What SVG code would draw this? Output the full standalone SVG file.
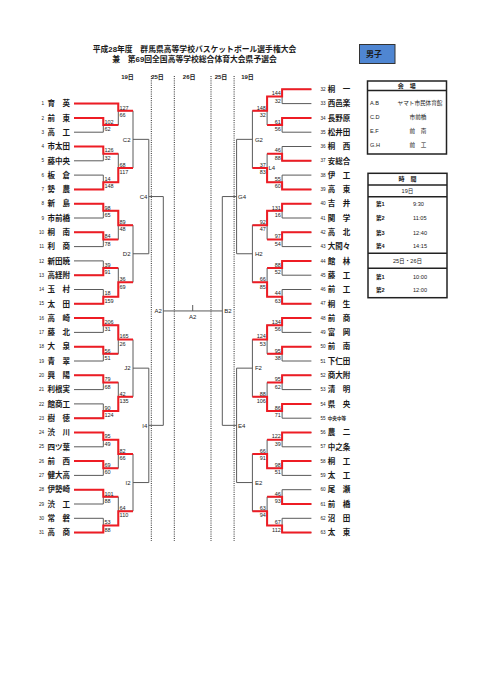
<svg xmlns="http://www.w3.org/2000/svg" xmlns:xlink="http://www.w3.org/1999/xlink" width="481" height="680" viewBox="0 0 481 680">
<style>
text{font-family:'Liberation Sans','Noto Sans CJK JP',sans-serif;fill:#1a1a1a}
.nm{font-size:7.5px;font-weight:bold}
.no{font-size:4.6px}
.rn{text-anchor:end}
.sc text{font-size:5.5px}
.sl text{text-anchor:start}
.sr text{text-anchor:end}
.lb{font-size:6px}
.hd{font-size:6px;font-weight:bold;text-anchor:middle}
.ti{font-size:7.8px;font-weight:bold;text-anchor:middle}
.tb{font-size:5.6px}
.g{fill:none;stroke:#5a5a5a;stroke-width:1}
.r{fill:none;stroke:#ee1c24;stroke-width:2}
.dt{stroke:#111;stroke-width:0.9;stroke-dasharray:1 1.2}
.bx{fill:none;stroke:#222;stroke-width:1.5}
</style>
<defs>
<path id="lg8" class="g" d="M74 89.3H103.3M74 103.6H103.3M74 117.9H103.3M74 132.2H103.3M74 146.5H103.3M74 160.8H103.3M74 175.1H103.3M74 189.4H103.3M103.3 89.3V103.6M103.3 117.9V132.2M103.3 146.5V160.8M103.3 175.1V189.4M103.3 96.45H118.3M103.3 125.05H118.3M103.3 153.65H118.3M103.3 182.25H118.3M118.3 96.45V125.05M118.3 153.65V182.25M118.3 110.75H133M118.3 167.95H133M133 110.75V167.95M133 139.35H148.8"/>
<path id="rg8" class="g" d="M311.4 89.3H282.1M311.4 103.6H282.1M311.4 117.9H282.1M311.4 132.2H282.1M311.4 146.5H282.1M311.4 160.8H282.1M311.4 175.1H282.1M311.4 189.4H282.1M282.1 89.3V103.6M282.1 117.9V132.2M282.1 146.5V160.8M282.1 175.1V189.4M282.1 96.45H267.1M282.1 125.05H267.1M282.1 153.65H267.1M282.1 182.25H267.1M267.1 96.45V125.05M267.1 153.65V182.25M267.1 110.75H252.4M267.1 167.95H252.4M252.4 110.75V167.95M252.4 139.35H236.6"/>
</defs>

<g id="title">
<text class="ti" x="194.5" y="51.9">平成28年度　群馬県高等学校バスケットボール選手権大会</text>
<text class="ti" x="194.5" y="61.9">兼　第69回全国高等学校総合体育大会県予選会</text>
</g>
<g id="boys">
<rect x="359.5" y="44.5" width="35.5" height="19" fill="#4f86d2" stroke="#333" stroke-width="1"/>
<text x="374" y="57" style="font-size:8px;font-weight:bold;text-anchor:middle">男子</text>
</g>

<g id="days">
<text class="hd" x="127.5" y="79">19日</text>
<text class="hd" x="157.5" y="79">25日</text>
<text class="hd" x="189.2" y="79">26日</text>
<text class="hd" x="221" y="79">25日</text>
<text class="hd" x="247.5" y="79">19日</text>
<line class="dt" x1="151.3" y1="76" x2="151.3" y2="541"/>
<line class="dt" x1="174.3" y1="76" x2="174.3" y2="541"/>
<line class="dt" x1="211" y1="76" x2="211" y2="541"/>
<line class="dt" x1="234.1" y1="76" x2="234.1" y2="541"/>
</g>

<g id="connectors">
<path class="g" d="M74 103.6H118.3M74 117.9H103.3M74 132.2H103.3M74 146.5H103.3M74 160.8H103.3M74 175.1H103.3M74 189.4H103.3M103.3 117.9V132.2M103.3 146.5V160.8M103.3 175.1V189.4M103.3 125.05H118.3M103.3 153.65H118.3M103.3 182.25H118.3M118.3 103.6V125.05M118.3 153.65V182.25M118.3 110.75H133M118.3 167.95H133M133 110.75V167.95M133 139.35H148.8"/>
<use xlink:href="#lg8" href="#lg8" y="114.4"/>
<use xlink:href="#lg8" href="#lg8" y="228.8"/>
<use xlink:href="#lg8" href="#lg8" y="343.2"/>
<use xlink:href="#rg8" href="#rg8" y="0"/>
<use xlink:href="#rg8" href="#rg8" y="114.4"/>
<use xlink:href="#rg8" href="#rg8" y="228.8"/>
<use xlink:href="#rg8" href="#rg8" y="343.2"/>
<path class="g" d="M148.8 139.35V253.75M148.8 196.55H163.3M148.8 368.15V482.55M148.8 425.35H163.3M163.3 196.55V425.35M163.3 310.95H222.3M236.6 139.35V253.75M236.6 196.55H222.3M236.6 368.15V482.55M236.6 425.35H222.3M222.3 196.55V425.35M192.7 310.95V305"/>
<path class="r" d="M74 103.6H118.3V110.75H133M74 117.9H103.3V125.05H118.3M74 146.5H103.3V153.65H118.3M74 189.4H103.3V182.25H118.3V167.95H133M74 203.7H103.3V210.85H118.3V225.15H133M74 232.3H103.3V239.45H118.3M74 275.2H103.3V268.05H118.3M74 303.8H103.3V296.65H118.3V282.35H133M74 318.1H103.3V325.25H118.3V339.55H133M74 346.7H103.3V353.85H118.3M74 375.3H103.3V382.45H118.3M74 418.2H103.3V411.05H118.3V396.75H133M74 432.5H103.3V439.65H118.3V453.95H133M74 461.1H103.3V468.25H118.3M74 489.7H103.3V496.85H118.3M74 532.6H103.3V525.45H118.3V511.15H133"/>
<path class="r" d="M311.4 89.3H282.1V96.45H267.1V110.75H252.4M311.4 117.9H282.1V125.05H267.1M311.4 160.8H282.1V153.65H267.1M311.4 189.4H282.1V182.25H267.1V167.95H252.4M311.4 203.7H282.1V210.85H267.1V225.15H252.4M311.4 232.3H282.1V239.45H267.1M311.4 260.9H282.1V268.05H267.1M311.4 303.8H282.1V296.65H267.1V282.35H252.4M311.4 318.1H282.1V325.25H267.1V339.55H252.4M311.4 346.7H282.1V353.85H267.1M311.4 375.3H282.1V382.45H267.1M311.4 403.9H282.1V411.05H267.1V396.75H252.4M311.4 432.5H282.1V439.65H267.1M311.4 461.1H282.1V468.25H267.1V453.95H252.4M311.4 504H282.1V496.85H267.1M311.4 532.6H282.1V525.45H267.1V511.15H252.4"/>
</g>

<g id="scores-left" class="sc sl">
<g transform="translate(104.5 125.05)"><text y="-1.2">102</text><text y="6.2">62</text></g>
<g transform="translate(104.5 153.65)"><text y="-1.2">126</text><text y="6.2">32</text></g>
<g transform="translate(104.5 182.25)"><text y="-1.2">14</text><text y="6.2">148</text></g>
<g transform="translate(119.5 110.75)"><text y="-1.2">127</text><text y="6.2">66</text></g>
<g transform="translate(119.5 167.95)"><text y="-1.2">68</text><text y="6.2">117</text></g>
<g transform="translate(104.5 210.85)"><text y="-1.2">98</text><text y="6.2">65</text></g>
<g transform="translate(104.5 239.45)"><text y="-1.2">84</text><text y="6.2">78</text></g>
<g transform="translate(104.5 268.05)"><text y="-1.2">39</text><text y="6.2">91</text></g>
<g transform="translate(104.5 296.65)"><text y="-1.2">18</text><text y="6.2">159</text></g>
<g transform="translate(119.5 225.15)"><text y="-1.2">89</text><text y="6.2">48</text></g>
<g transform="translate(119.5 282.35)"><text y="-1.2">36</text><text y="6.2">69</text></g>
<g transform="translate(104.5 325.25)"><text y="-1.2">206</text><text y="6.2">31</text></g>
<g transform="translate(104.5 353.85)"><text y="-1.2">56</text><text y="6.2">51</text></g>
<g transform="translate(104.5 382.45)"><text y="-1.2">79</text><text y="6.2">68</text></g>
<g transform="translate(104.5 411.05)"><text y="-1.2">90</text><text y="6.2">124</text></g>
<g transform="translate(119.5 339.55)"><text y="-1.2">165</text><text y="6.2">26</text></g>
<g transform="translate(119.5 396.75)"><text y="-1.2">42</text><text y="6.2">135</text></g>
<g transform="translate(104.5 439.65)"><text y="-1.2">95</text><text y="6.2">49</text></g>
<g transform="translate(104.5 468.25)"><text y="-1.2">69</text><text y="6.2">60</text></g>
<g transform="translate(104.5 496.85)"><text y="-1.2">101</text><text y="6.2">88</text></g>
<g transform="translate(104.5 525.45)"><text y="-1.2">53</text><text y="6.2">88</text></g>
<g transform="translate(119.5 453.95)"><text y="-1.2">82</text><text y="6.2">66</text></g>
<g transform="translate(119.5 511.15)"><text y="-1.2">64</text><text y="6.2">110</text></g>
</g>

<g id="scores-right" class="sc sr">
<g transform="translate(280.9 96.45)"><text y="-1.2">144</text><text y="6.2">32</text></g>
<g transform="translate(280.9 125.05)"><text y="-1.2">61</text><text y="6.2">56</text></g>
<g transform="translate(280.9 153.65)"><text y="-1.2">46</text><text y="6.2">88</text></g>
<g transform="translate(280.9 182.25)"><text y="-1.2">55</text><text y="6.2">60</text></g>
<g transform="translate(265.9 110.75)"><text y="-1.2">148</text><text y="6.2">32</text></g>
<g transform="translate(265.9 167.95)"><text y="-1.2">37</text><text y="6.2">83</text></g>
<g transform="translate(280.9 210.85)"><text y="-1.2">131</text><text y="6.2">16</text></g>
<g transform="translate(280.9 239.45)"><text y="-1.2">97</text><text y="6.2">54</text></g>
<g transform="translate(280.9 268.05)"><text y="-1.2">88</text><text y="6.2">52</text></g>
<g transform="translate(280.9 296.65)"><text y="-1.2">44</text><text y="6.2">63</text></g>
<g transform="translate(265.9 225.15)"><text y="-1.2">92</text><text y="6.2">47</text></g>
<g transform="translate(265.9 282.35)"><text y="-1.2">66</text><text y="6.2">85</text></g>
<g transform="translate(280.9 325.25)"><text y="-1.2">134</text><text y="6.2">56</text></g>
<g transform="translate(280.9 353.85)"><text y="-1.2">95</text><text y="6.2">38</text></g>
<g transform="translate(280.9 382.45)"><text y="-1.2">95</text><text y="6.2">62</text></g>
<g transform="translate(280.9 411.05)"><text y="-1.2">86</text><text y="6.2">71</text></g>
<g transform="translate(265.9 339.55)"><text y="-1.2">124</text><text y="6.2">53</text></g>
<g transform="translate(265.9 396.75)"><text y="-1.2">88</text><text y="6.2">106</text></g>
<g transform="translate(280.9 439.65)"><text y="-1.2">122</text><text y="6.2">39</text></g>
<g transform="translate(280.9 468.25)"><text y="-1.2">98</text><text y="6.2">51</text></g>
<g transform="translate(280.9 496.85)"><text y="-1.2">46</text><text y="6.2">93</text></g>
<g transform="translate(280.9 525.45)"><text y="-1.2">67</text><text y="6.2">112</text></g>
<g transform="translate(265.9 453.95)"><text y="-1.2">66</text><text y="6.2">91</text></g>
<g transform="translate(265.9 511.15)"><text y="-1.2">63</text><text y="6.2">94</text></g>
</g>

<g id="round-labels">
<text class="lb" x="130.5" y="141.5" text-anchor="end">C2</text>
<text class="lb" x="130.5" y="255.9" text-anchor="end">D2</text>
<text class="lb" x="130.5" y="370.3" text-anchor="end">J2</text>
<text class="lb" x="130.5" y="484.7" text-anchor="end">I2</text>
<text class="lb" x="147.3" y="198.7" text-anchor="end">C4</text>
<text class="lb" x="147.3" y="427.5" text-anchor="end">I4</text>
<text class="lb" x="161.8" y="313.1" text-anchor="end">A2</text>
<text class="lb" x="254.9" y="141.5">G2</text>
<text class="lb" x="254.9" y="255.9">H2</text>
<text class="lb" x="254.9" y="370.3">F2</text>
<text class="lb" x="254.9" y="484.7">E2</text>
<text class="lb" x="238.1" y="198.7">G4</text>
<text class="lb" x="238.1" y="427.5">E4</text>
<text class="lb" x="224.2" y="313.1">B2</text>
<text class="lb" x="192.7" y="318.6" text-anchor="middle">A2</text>
<text class="lb" x="268.4" y="170.1">L4</text>
</g>

<g id="teams-left">
<g id="t1" transform="translate(0 103.6)"><text class="no rn" x="44" y="1.6">1</text><text class="nm" x="47.5" y="2.7">育　英</text></g>
<g id="t2" transform="translate(0 117.9)"><text class="no rn" x="44" y="1.6">2</text><text class="nm" x="47.5" y="2.7">前　東</text></g>
<g id="t3" transform="translate(0 132.2)"><text class="no rn" x="44" y="1.6">3</text><text class="nm" x="47.5" y="2.7">高　工</text></g>
<g id="t4" transform="translate(0 146.5)"><text class="no rn" x="44" y="1.6">4</text><text class="nm" x="47.5" y="2.7">市太田</text></g>
<g id="t5" transform="translate(0 160.8)"><text class="no rn" x="44" y="1.6">5</text><text class="nm" x="47.5" y="2.7">藤中央</text></g>
<g id="t6" transform="translate(0 175.1)"><text class="no rn" x="44" y="1.6">6</text><text class="nm" x="47.5" y="2.7">板　倉</text></g>
<g id="t7" transform="translate(0 189.4)"><text class="no rn" x="44" y="1.6">7</text><text class="nm" x="47.5" y="2.7">勢　農</text></g>
<g id="t8" transform="translate(0 203.7)"><text class="no rn" x="44" y="1.6">8</text><text class="nm" x="47.5" y="2.7">新　島</text></g>
<g id="t9" transform="translate(0 218)"><text class="no rn" x="44" y="1.6">9</text><text class="nm" x="47.5" y="2.7">市前橋</text></g>
<g id="t10" transform="translate(0 232.3)"><text class="no rn" x="44" y="1.6">10</text><text class="nm" x="47.5" y="2.7">桐　南</text></g>
<g id="t11" transform="translate(0 246.6)"><text class="no rn" x="44" y="1.6">11</text><text class="nm" x="47.5" y="2.7">利　商</text></g>
<g id="t12" transform="translate(0 260.9)"><text class="no rn" x="44" y="1.6">12</text><text class="nm" x="47.5" y="2.7">新田暁</text></g>
<g id="t13" transform="translate(0 275.2)"><text class="no rn" x="44" y="1.6">13</text><text class="nm" x="47.5" y="2.7">高経附</text></g>
<g id="t14" transform="translate(0 289.5)"><text class="no rn" x="44" y="1.6">14</text><text class="nm" x="47.5" y="2.7">玉　村</text></g>
<g id="t15" transform="translate(0 303.8)"><text class="no rn" x="44" y="1.6">15</text><text class="nm" x="47.5" y="2.7">太　田</text></g>
<g id="t16" transform="translate(0 318.1)"><text class="no rn" x="44" y="1.6">16</text><text class="nm" x="47.5" y="2.7">高　崎</text></g>
<g id="t17" transform="translate(0 332.4)"><text class="no rn" x="44" y="1.6">17</text><text class="nm" x="47.5" y="2.7">藤　北</text></g>
<g id="t18" transform="translate(0 346.7)"><text class="no rn" x="44" y="1.6">18</text><text class="nm" x="47.5" y="2.7">大　泉</text></g>
<g id="t19" transform="translate(0 361)"><text class="no rn" x="44" y="1.6">19</text><text class="nm" x="47.5" y="2.7">青　翠</text></g>
<g id="t20" transform="translate(0 375.3)"><text class="no rn" x="44" y="1.6">20</text><text class="nm" x="47.5" y="2.7">興　陽</text></g>
<g id="t21" transform="translate(0 389.6)"><text class="no rn" x="44" y="1.6">21</text><text class="nm" x="47.5" y="2.7">利根実</text></g>
<g id="t22" transform="translate(0 403.9)"><text class="no rn" x="44" y="1.6">22</text><text class="nm" x="47.5" y="2.7">館商工</text></g>
<g id="t23" transform="translate(0 418.2)"><text class="no rn" x="44" y="1.6">23</text><text class="nm" x="47.5" y="2.7">樹　徳</text></g>
<g id="t24" transform="translate(0 432.5)"><text class="no rn" x="44" y="1.6">24</text><text class="nm" x="47.5" y="2.7">渋　川</text></g>
<g id="t25" transform="translate(0 446.8)"><text class="no rn" x="44" y="1.6">25</text><text class="nm" x="47.5" y="2.7">四ツ葉</text></g>
<g id="t26" transform="translate(0 461.1)"><text class="no rn" x="44" y="1.6">26</text><text class="nm" x="47.5" y="2.7">前　西</text></g>
<g id="t27" transform="translate(0 475.4)"><text class="no rn" x="44" y="1.6">27</text><text class="nm" x="47.5" y="2.7">健大高</text></g>
<g id="t28" transform="translate(0 489.7)"><text class="no rn" x="44" y="1.6">28</text><text class="nm" x="47.5" y="2.7">伊勢崎</text></g>
<g id="t29" transform="translate(0 504)"><text class="no rn" x="44" y="1.6">29</text><text class="nm" x="47.5" y="2.7">渋　工</text></g>
<g id="t30" transform="translate(0 518.3)"><text class="no rn" x="44" y="1.6">30</text><text class="nm" x="47.5" y="2.7">常　磐</text></g>
<g id="t31" transform="translate(0 532.6)"><text class="no rn" x="44" y="1.6">31</text><text class="nm" x="47.5" y="2.7">高　商</text></g>
</g>

<g id="teams-right">
<g id="t32" transform="translate(0 89.3)"><text class="no rn" x="325.5" y="1.6">32</text><text class="nm" x="327.7" y="2.7">桐　一</text></g>
<g id="t33" transform="translate(0 103.6)"><text class="no rn" x="325.5" y="1.6">33</text><text class="nm" x="327.7" y="2.7">西邑楽</text></g>
<g id="t34" transform="translate(0 117.9)"><text class="no rn" x="325.5" y="1.6">34</text><text class="nm" x="327.7" y="2.7">長野原</text></g>
<g id="t35" transform="translate(0 132.2)"><text class="no rn" x="325.5" y="1.6">35</text><text class="nm" x="327.7" y="2.7">松井田</text></g>
<g id="t36" transform="translate(0 146.5)"><text class="no rn" x="325.5" y="1.6">36</text><text class="nm" x="327.7" y="2.7">桐　西</text></g>
<g id="t37" transform="translate(0 160.8)"><text class="no rn" x="325.5" y="1.6">37</text><text class="nm" x="327.7" y="2.7">安総合</text></g>
<g id="t38" transform="translate(0 175.1)"><text class="no rn" x="325.5" y="1.6">38</text><text class="nm" x="327.7" y="2.7">伊　工</text></g>
<g id="t39" transform="translate(0 189.4)"><text class="no rn" x="325.5" y="1.6">39</text><text class="nm" x="327.7" y="2.7">高　東</text></g>
<g id="t40" transform="translate(0 203.7)"><text class="no rn" x="325.5" y="1.6">40</text><text class="nm" x="327.7" y="2.7">吉　井</text></g>
<g id="t41" transform="translate(0 218)"><text class="no rn" x="325.5" y="1.6">41</text><text class="nm" x="327.7" y="2.7">関　学</text></g>
<g id="t42" transform="translate(0 232.3)"><text class="no rn" x="325.5" y="1.6">42</text><text class="nm" x="327.7" y="2.7">高　北</text></g>
<g id="t43" transform="translate(0 246.6)"><text class="no rn" x="325.5" y="1.6">43</text><text class="nm" x="327.7" y="2.7">大間々</text></g>
<g id="t44" transform="translate(0 260.9)"><text class="no rn" x="325.5" y="1.6">44</text><text class="nm" x="327.7" y="2.7">館　林</text></g>
<g id="t45" transform="translate(0 275.2)"><text class="no rn" x="325.5" y="1.6">45</text><text class="nm" x="327.7" y="2.7">藤　工</text></g>
<g id="t46" transform="translate(0 289.5)"><text class="no rn" x="325.5" y="1.6">46</text><text class="nm" x="327.7" y="2.7">前　工</text></g>
<g id="t47" transform="translate(0 303.8)"><text class="no rn" x="325.5" y="1.6">47</text><text class="nm" x="327.7" y="2.7">桐　生</text></g>
<g id="t48" transform="translate(0 318.1)"><text class="no rn" x="325.5" y="1.6">48</text><text class="nm" x="327.7" y="2.7">前　商</text></g>
<g id="t49" transform="translate(0 332.4)"><text class="no rn" x="325.5" y="1.6">49</text><text class="nm" x="327.7" y="2.7">富　岡</text></g>
<g id="t50" transform="translate(0 346.7)"><text class="no rn" x="325.5" y="1.6">50</text><text class="nm" x="327.7" y="2.7">前　南</text></g>
<g id="t51" transform="translate(0 361)"><text class="no rn" x="325.5" y="1.6">51</text><text class="nm" x="327.7" y="2.7">下仁田</text></g>
<g id="t52" transform="translate(0 375.3)"><text class="no rn" x="325.5" y="1.6">52</text><text class="nm" x="327.7" y="2.7">商大附</text></g>
<g id="t53" transform="translate(0 389.6)"><text class="no rn" x="325.5" y="1.6">53</text><text class="nm" x="327.7" y="2.7">清　明</text></g>
<g id="t54" transform="translate(0 403.9)"><text class="no rn" x="325.5" y="1.6">54</text><text class="nm" x="327.7" y="2.7">県　央</text></g>
<g id="t55" transform="translate(0 418.2)"><text class="no rn" x="325.5" y="1.6">55</text><text class="nm" x="327.7" y="1.8" style="font-size:4.6px">中央中等</text></g>
<g id="t56" transform="translate(0 432.5)"><text class="no rn" x="325.5" y="1.6">56</text><text class="nm" x="327.7" y="2.7">農　二</text></g>
<g id="t57" transform="translate(0 446.8)"><text class="no rn" x="325.5" y="1.6">57</text><text class="nm" x="327.7" y="2.7">中之条</text></g>
<g id="t58" transform="translate(0 461.1)"><text class="no rn" x="325.5" y="1.6">58</text><text class="nm" x="327.7" y="2.7">桐　工</text></g>
<g id="t59" transform="translate(0 475.4)"><text class="no rn" x="325.5" y="1.6">59</text><text class="nm" x="327.7" y="2.7">太　工</text></g>
<g id="t60" transform="translate(0 489.7)"><text class="no rn" x="325.5" y="1.6">60</text><text class="nm" x="327.7" y="2.7">尾　瀬</text></g>
<g id="t61" transform="translate(0 504)"><text class="no rn" x="325.5" y="1.6">61</text><text class="nm" x="327.7" y="2.7">前　橋</text></g>
<g id="t62" transform="translate(0 518.3)"><text class="no rn" x="325.5" y="1.6">62</text><text class="nm" x="327.7" y="2.7">沼　田</text></g>
<g id="t63" transform="translate(0 532.6)"><text class="no rn" x="325.5" y="1.6">63</text><text class="nm" x="327.7" y="2.7">太　東</text></g>
</g>

<g id="venue-table">
<rect class="bx" x="367.5" y="81" width="79" height="73"/>
<line class="bx" x1="367.5" y1="90.5" x2="446.5" y2="90.5"/>
<text class="hd" x="406.7" y="87.6">会　場</text>
<text class="tb" x="370" y="105.3">A.B</text>
<text class="tb" x="370" y="119.3">C.D</text>
<text class="tb" x="370" y="133">E.F</text>
<text class="tb" x="370" y="147">G.H</text>
<text class="tb" x="420" y="105.3" text-anchor="middle">ヤマト市民体育館</text>
<text class="tb" x="418" y="119.3" text-anchor="middle">市前橋</text>
<text class="tb" x="418" y="133" text-anchor="middle">前　南</text>
<text class="tb" x="418" y="147" text-anchor="middle">前　工</text>
</g>

<g id="time-table">
<rect class="bx" x="368" y="173.3" width="79" height="124.4"/>
<line class="bx" x1="368" y1="185" x2="447" y2="185"/>
<line class="bx" x1="368" y1="196.7" x2="447" y2="196.7"/>
<line class="bx" x1="368" y1="253.3" x2="447" y2="253.3"/>
<line class="bx" x1="368" y1="268.3" x2="447" y2="268.3"/>
<text class="hd" x="407.5" y="181.2">時　間</text>
<text class="tb" x="407.5" y="193" text-anchor="middle">19日</text>
<text class="tb" x="376" y="206" font-weight="bold">第1</text><text class="tb" x="413" y="206">9:30</text>
<text class="tb" x="376" y="219.7" font-weight="bold">第2</text><text class="tb" x="413" y="219.7">11:05</text>
<text class="tb" x="376" y="234.7" font-weight="bold">第3</text><text class="tb" x="413" y="234.7">12:40</text>
<text class="tb" x="376" y="248" font-weight="bold">第4</text><text class="tb" x="413" y="248">14:15</text>
<text class="tb" x="407.5" y="262.8" text-anchor="middle">25日・26日</text>
<text class="tb" x="376" y="278.7" font-weight="bold">第1</text><text class="tb" x="413" y="278.7">10:00</text>
<text class="tb" x="376" y="292" font-weight="bold">第2</text><text class="tb" x="413" y="292">12:00</text>
</g>
</svg>
